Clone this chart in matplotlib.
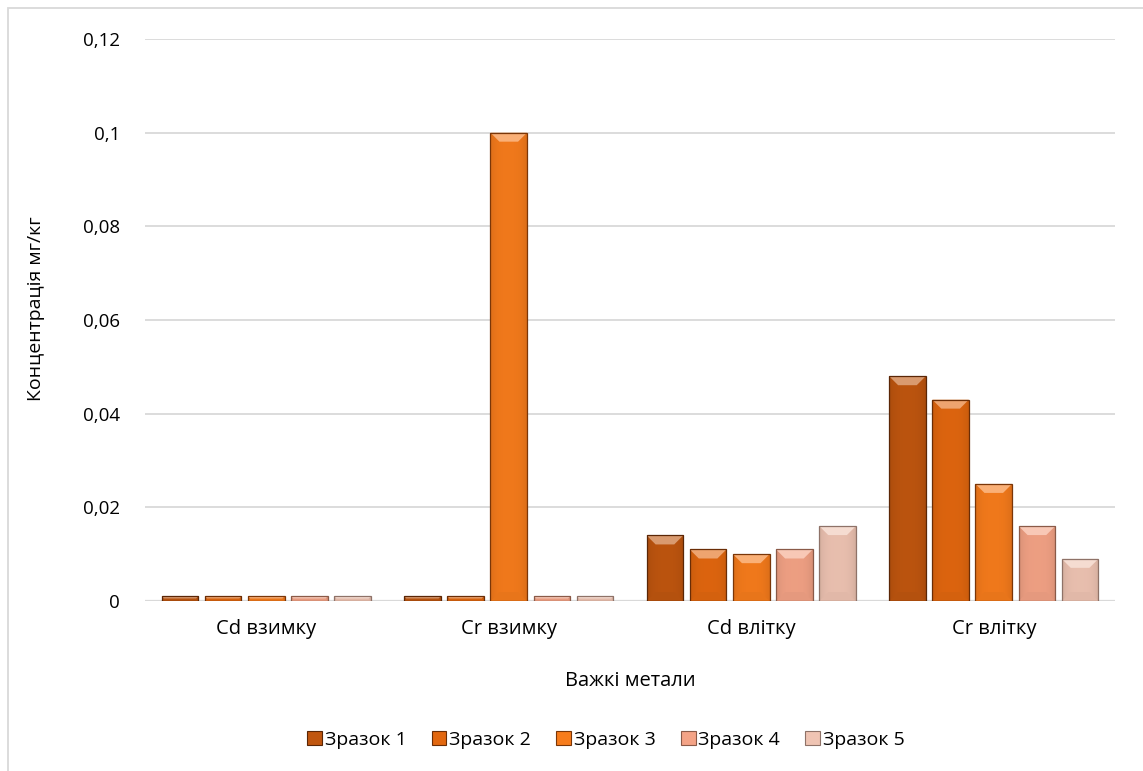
import numpy as np
import matplotlib
matplotlib.use('Agg')
import matplotlib.pyplot as plt
from matplotlib.patches import Polygon, Rectangle, Patch
from matplotlib.ticker import FuncFormatter

plt.rcParams['font.family'] = ['Open Sans', 'DejaVu Sans']

categories = ['Cd взимку', 'Cr взимку', 'Cd влітку', 'Cr влітку']
series_names = ['Зразок 1', 'Зразок 2', 'Зразок 3', 'Зразок 4', 'Зразок 5']
zrazok_1 = [0.001, 0.001, 0.014, 0.048]
zrazok_2 = [0.001, 0.001, 0.011, 0.043]
zrazok_3 = [0.001, 0.1, 0.010, 0.025]
zrazok_4 = [0.001, 0.001, 0.011, 0.016]
zrazok_5 = [0.001, 0.001, 0.016, 0.009]
series_values = [zrazok_1, zrazok_2, zrazok_3, zrazok_4, zrazok_5]

colors = ['#C0560F', '#E2670F', '#F77C1C', '#F4A386', '#EFC4B3']
edge_colors = ['#5A2606', '#6A2D06', '#7A3608', '#8A5A48', '#8E7268']
y_ticks = [0, 0.02, 0.04, 0.06, 0.08, 0.1, 0.12]


def lighten(c, amount):
    rgb = np.array(matplotlib.colors.to_rgb(c))
    return tuple(rgb + (1 - rgb) * amount)


def darken(c, amount):
    rgb = np.array(matplotlib.colors.to_rgb(c))
    return tuple(rgb * (1 - amount))


def bevel_bar(ax, bar, color, px_x, px_y):
    # horizontal shading inside the bar plus a light bevel on the top edge
    x0 = bar.get_x()
    w = bar.get_width()
    h = bar.get_height()
    grad = np.linspace(-1, 1, 64)
    shade = np.abs(grad) ** 3
    base = np.array(matplotlib.colors.to_rgb(color))
    img = np.empty((1, 64, 3))
    for i, s in enumerate(shade):
        img[0, i] = base * (0.97 - 0.08 * s)
    img = np.clip(img, 0, 1)
    im = ax.imshow(img, extent=(x0, x0 + w, 0, h), aspect='auto',
                   interpolation='bilinear', zorder=3)
    im.set_clip_path(bar)

    bh = min(9 * px_y, h / 2)
    bw = min(bh / px_y * px_x, w / 2)
    top = Polygon([(x0, h), (x0 + w, h), (x0 + w - bw, h - bh), (x0 + bw, h - bh)],
                  closed=True, facecolor=lighten(color, 0.4), edgecolor='none', zorder=4)
    ax.add_patch(top)
    bottom = Polygon([(x0, 0), (x0 + w, 0), (x0 + w - bw, bh), (x0 + bw, bh)],
                     closed=True, facecolor=darken(color, 0.06), edgecolor='none', zorder=4)
    ax.add_patch(bottom)


fig = plt.figure(figsize=(11.43, 7.71), dpi=100)
ax = fig.add_axes([145 / 1143, 1 - 601 / 771, 970 / 1143, 562 / 771])

x = np.arange(len(categories))
bar_w = 0.151
pitch = 0.178
offsets = (np.arange(len(series_names)) - 2) * pitch

ax.set_xlim(-0.5, 3.5)
ax.set_ylim(0, 0.12)
px_x = 4.0 / 970
px_y = 0.12 / 562

for i, vals in enumerate(series_values):
    bars = ax.bar(x + offsets[i], vals, bar_w, color=colors[i], edgecolor='none',
                  zorder=2, label=series_names[i])
    for b in bars:
        bevel_bar(ax, b, colors[i], px_x, px_y)
        ax.add_patch(Rectangle((b.get_x(), 0), b.get_width(), b.get_height(),
                               facecolor='none', edgecolor=edge_colors[i],
                               linewidth=0.9, zorder=5))

ax.set_yticks(y_ticks)
ax.yaxis.set_major_formatter(FuncFormatter(lambda v, p: ('%g' % v).replace('.', ',')))
ax.set_xticks(x)
ax.set_xticklabels(categories)
ax.tick_params(axis='both', length=0, labelsize=13.5, colors='#000000')
ax.tick_params(axis='x', labelsize=14.5, pad=13)
ax.tick_params(axis='y', pad=18)
ax.grid(axis='y', color='#D9D9D9', linewidth=1.3, zorder=0)
ax.set_axisbelow(True)
for s in ax.spines.values():
    s.set_visible(False)
ax.axhline(0, color='#D9D9D9', linewidth=1.6, zorder=1)

ax.set_ylabel('Концентрація мг/кг', fontsize=14)
ax.yaxis.set_label_coords(-100 / 970, 0.52)
ax.set_xlabel('Важкі метали', fontsize=14.5)
ax.xaxis.set_label_coords(0.5, -70 / 562)

handles = [Patch(facecolor=colors[i], edgecolor=edge_colors[i], linewidth=0.8)
           for i in range(len(series_names))]
fig.legend(handles, series_names, loc='center', bbox_to_anchor=(606 / 1143, 1 - 740 / 771),
           ncol=5, frameon=False, fontsize=14, handlelength=0.75, handleheight=0.75,
           handletextpad=0.15, columnspacing=1.3)

# outer chart-area border
fig.add_artist(Rectangle((8 / 1143, -0.1), 1.2, 1 - 8 / 771 + 0.1, transform=fig.transFigure,
                         facecolor='none', edgecolor='#D9D9D9', linewidth=1.3))

fig.savefig('out.png', dpi=100)
